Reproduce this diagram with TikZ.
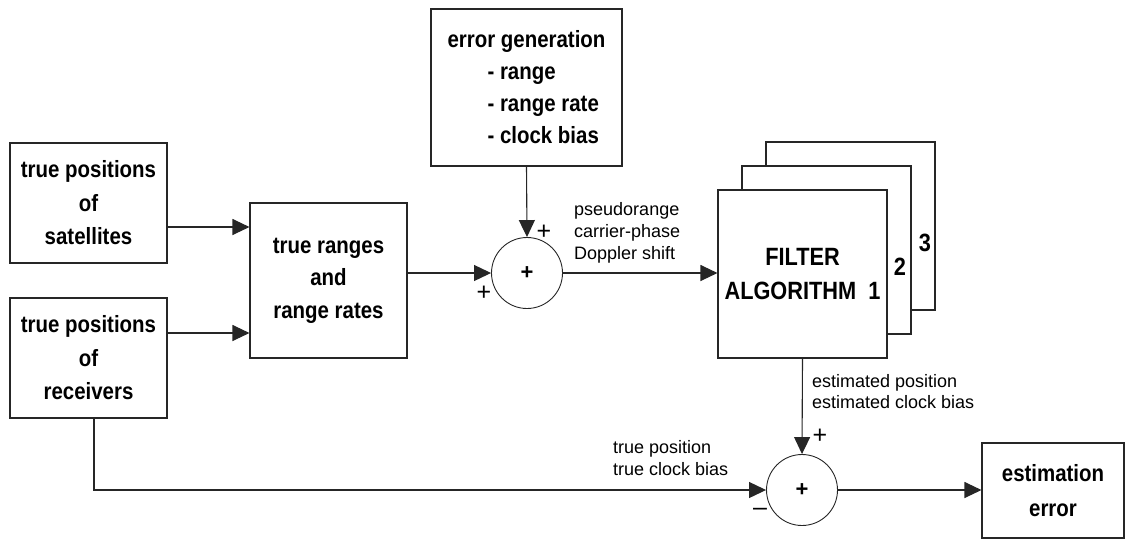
\documentclass[tikz,border=0pt]{standalone}
\usepackage{fontspec}
\setmainfont{Liberation Sans}
\newfontfamily\narrowfont{Liberation Sans}[FakeStretch=0.87]
\usetikzlibrary{arrows.meta,calc}

\tikzset{
  wire/.style={line width=1.1pt, draw=black!85},
  flow/.style={wire, -{Triangle[length=17pt,width=16pt]}},
  block/.style={draw=black!85, line width=1.1pt, fill=white, rectangle, inner sep=0pt,
    font={\narrowfont\fontsize{23.5}{33.5}\selectfont\bfseries}, align=center},
  summer/.style={draw=black!85, line width=0.9pt, circle, minimum size=71pt, inner sep=0pt,
    font={\fontsize{22}{22}\selectfont\bfseries}},
  note/.style={inner sep=0pt, anchor=west, align=left,
    font={\fontsize{18}{22}\selectfont}},
  sign/.style={inner sep=0pt, font={\fontsize{25}{25}\selectfont}},
  stacknum/.style={inner sep=0pt, font={\narrowfont\fontsize{25}{25}\selectfont\bfseries}},
}

\begin{document}
\begin{tikzpicture}[x=1pt,y=-1pt]
\useasboundingbox (0,0) rectangle (1126,541);

% input blocks
\node[block, minimum width=157pt, minimum height=120pt] (sat) at (88.5,203)
  {true positions\\of\\satellites};
\node[block, minimum width=157pt, minimum height=120pt] (rec) at (88.5,358)
  {true positions\\of\\receivers};
\node[block, minimum width=157pt, minimum height=155pt, font={\narrowfont\fontsize{23.5}{32.5}\selectfont\bfseries}] (rng) at (328.5,280.5)
  {true ranges\\and\\range rates};
\node[block, minimum width=191pt, minimum height=157pt, align=left, font={\narrowfont\fontsize{23.5}{32}\selectfont\bfseries}] (err) at (526.5,87.5)
  {error generation\\\hspace*{40pt}- range\\\hspace*{40pt}- range rate\\\hspace*{40pt}- clock bias};

% first summing junction
\node[summer] (sum1) at (527,273) {+};

% stacked filter blocks
\node[block, minimum width=169pt, minimum height=168pt] (filt3) at (850.5,226) {};
\node[block, minimum width=169pt, minimum height=168pt] (filt2) at (826.5,250) {};
\node[block, minimum width=169pt, minimum height=168pt, font={\narrowfont\fontsize{25}{34}\selectfont\bfseries}] (filt1) at (802.5,274)
  {FILTER\\ALGORITHM\ \ 1};
\node[stacknum] (n2) at (900,267) {2};
\node[stacknum] (n3) at (925,243) {3};

% second summing junction and output
\node[summer] (sum2) at (802,490) {+};
\node[block, minimum width=142pt, minimum height=95pt, font={\narrowfont\fontsize{23.5}{35}\selectfont\bfseries}] (est) at (1053,490.5)
  {estimation\\error};

% entry points on the ranges block
\coordinate (in1) at ($(rng.west)+(0,-53.5)$);
\coordinate (in2) at ($(rng.west)+(0,52.5)$);
\coordinate (tap) at ($(rec.south)+(5.5,0)$);

% connectors
\draw[flow] (sat.east |- in1) -- (in1);
\draw[flow] (rec.east |- in2) -- (in2);
\draw[flow] (rng.east |- sum1) -- (sum1.west);
\draw[flow] (err.south) -- (sum1.north);
\draw[flow] (sum1.east) -- (filt1.west |- sum1);
\draw[flow] (filt1.south) -- (sum2.north);
\draw[flow] (tap) |- (sum2.west);
\draw[flow] (sum2.east) -- (est.west |- sum2);

% signal labels
\node[note] (lmeas) at (574,233) {pseudorange\\carrier-phase\\Doppler shift};
\node[note, font={\fontsize{18}{21}\selectfont}] (lest) at (812,392) {estimated position\\estimated clock bias};
\node[note] (ltrue) at (613,458.5) {true position\\true clock bias};

% junction signs
\node[sign] (p1) at (544,232) {+};
\node[sign] (p2) at (484,293) {+};
\node[sign] (p3) at (820,436) {+};
\node[sign] (m1) at (760,512) {\textendash};
\end{tikzpicture}
\end{document}
